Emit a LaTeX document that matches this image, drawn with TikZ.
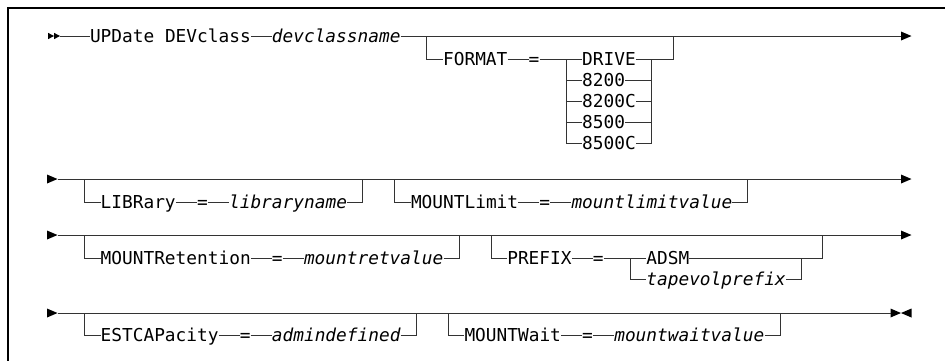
\documentclass[tikz,border=0pt]{standalone}
\usepackage{fontspec}
\setmonofont{DejaVu Sans Mono}[ItalicFont={DejaVu Sans Mono Oblique}]
\newcommand{\cl}[1]{47+#1*10.7}
\tikzset{
  rr/.style={line width=0.9pt, draw=black!80},
  kw/.style={inner sep=0pt, anchor=west, text height=13pt, text depth=0pt,
    font=\ttfamily\fontsize{17.8}{20}\selectfont},
  var/.style={kw, font=\ttfamily\itshape\fontsize{17.8}{20}\selectfont},
  frm/.style={line width=1.4pt, draw=black}
}
\newcommand{\rtri}[1]{\fill[black] (#1) ++(0,-4.5) -- ++(10.5,4.5) -- ++(-10.5,4.5) -- cycle;}
\newcommand{\ltri}[1]{\fill[black] (#1) ++(0,0) -- ++(10.5,-4.5) -- ++(0,9) -- cycle;}
\newcommand{\stri}[1]{\fill[black] (#1) ++(0,-3.2) -- ++(6,3.2) -- ++(-6,3.2) -- cycle;}
\begin{document}
\begin{tikzpicture}[x=1pt,y=-1pt]
\useasboundingbox (0,0) rectangle (945,360);
\draw[frm] (8,361) -- (8,8) -- (946,8);

% ---------- Row 1 ----------
\coordinate (a1) at (48,36);
\coordinate (a1b) at (54,36);
\coordinate (s1) at (60,36);
\stri{a1}\stri{a1b}
\node[kw] (upd) at ({\cl{4}},36) {UPDate DEVclass};
\node[var] (dcn) at ({\cl{21}},36) {devclassname};
\coordinate (e1) at (901,36);
\rtri{e1}
\draw[rr] (s1) -- (upd.west);
\draw[rr] (upd.east) -- (dcn.west);
\draw[rr] (dcn.east) -- (e1);
\coordinate (j1a) at ({\cl{35.5}},36);
\coordinate (j1b) at ({\cl{58.5}},36);
\node[kw] (fmt) at ({\cl{37}},59) {FORMAT};
\node[kw] (eqf) at ({\cl{45}},59) {=};
\node[kw] (o1) at ({\cl{50}},59) {DRIVE};
\node[kw] (o2) at ({\cl{50}},80) {8200};
\node[kw] (o3) at ({\cl{50}},101) {8200C};
\node[kw] (o4) at ({\cl{50}},122) {8500};
\node[kw] (o5) at ({\cl{50}},143) {8500C};
\coordinate (cf1) at ({\cl{48.5}},59);
\coordinate (cf2) at ({\cl{56.5}},59);
\draw[rr] (j1a) |- (fmt.west);
\draw[rr] (fmt.east) -- (eqf.west);
\draw[rr] (eqf.east) -- (o1.west);
\draw[rr] (cf1) |- (o5.west);
\draw[rr] (cf1 |- o2.west) -- (o2.west);
\draw[rr] (cf1 |- o3.west) -- (o3.west);
\draw[rr] (cf1 |- o4.west) -- (o4.west);
\draw[rr] (o1.east) -| (j1b);
\draw[rr] (o5.east) -| (cf2);
\draw[rr] (o2.east) -- (cf2 |- o2.east);
\draw[rr] (o3.east) -- (cf2 |- o3.east);
\draw[rr] (o4.east) -- (cf2 |- o4.east);

% ---------- Row 2 ----------
\coordinate (s2) at (47,179);
\rtri{s2}
\coordinate (s2b) at (57.5,179);
\coordinate (e2) at (901,179);
\rtri{e2}
\draw[rr] (s2b) -- (e2);
\coordinate (j2a) at ({\cl{3.5}},179);
\coordinate (j2b) at ({\cl{29.5}},179);
\node[kw] (lib) at ({\cl{5}},202) {LIBRary};
\node[kw] (eql) at ({\cl{14}},202) {=};
\node[var] (libn) at ({\cl{17}},202) {libraryname};
\draw[rr] (j2a) |- (lib.west);
\draw[rr] (lib.east) -- (eql.west);
\draw[rr] (eql.east) -- (libn.west);
\draw[rr] (libn.east) -| (j2b);
\coordinate (j2c) at ({\cl{32.5}},179);
\coordinate (j2d) at ({\cl{65.5}},179);
\node[kw] (mlim) at ({\cl{34}},202) {MOUNTLimit};
\node[kw] (eqm) at ({\cl{46}},202) {=};
\node[var] (mlv) at ({\cl{49}},202) {mountlimitvalue};
\draw[rr] (j2c) |- (mlim.west);
\draw[rr] (mlim.east) -- (eqm.west);
\draw[rr] (eqm.east) -- (mlv.west);
\draw[rr] (mlv.east) -| (j2d);

% ---------- Row 3 ----------
\coordinate (s3) at (47,235);
\rtri{s3}
\coordinate (s3b) at (57.5,235);
\coordinate (e3) at (901,235);
\rtri{e3}
\draw[rr] (s3b) -- (e3);
\coordinate (j3a) at ({\cl{3.5}},235);
\coordinate (j3b) at ({\cl{38.5}},235);
\node[kw] (mret) at ({\cl{5}},258) {MOUNTRetention};
\node[kw] (eqr) at ({\cl{21}},258) {=};
\node[var] (mrv) at ({\cl{24}},258) {mountretvalue};
\draw[rr] (j3a) |- (mret.west);
\draw[rr] (mret.east) -- (eqr.west);
\draw[rr] (eqr.east) -- (mrv.west);
\draw[rr] (mrv.east) -| (j3b);
\coordinate (j3c) at ({\cl{41.5}},235);
\coordinate (j3d) at ({\cl{72.5}},235);
\node[kw] (pfx) at ({\cl{43}},258) {PREFIX};
\node[kw] (eqp) at ({\cl{51}},258) {=};
\node[kw] (adsm) at ({\cl{56}},258) {ADSM};
\node[var] (tvp) at ({\cl{56}},279) {tapevolprefix};
\coordinate (cp1) at ({\cl{54.5}},258);
\coordinate (cp2) at ({\cl{70.5}},258);
\draw[rr] (j3c) |- (pfx.west);
\draw[rr] (pfx.east) -- (eqp.west);
\draw[rr] (eqp.east) -- (adsm.west);
\draw[rr] (cp1) |- (tvp.west);
\draw[rr] (adsm.east) -| (j3d);
\draw[rr] (tvp.east) -| (cp2);

% ---------- Row 4 ----------
\coordinate (s4) at (47,313);
\rtri{s4}
\coordinate (s4b) at (57.5,313);
\coordinate (e4) at (890.5,313);
\coordinate (e4b) at (901,313);
\rtri{e4}\ltri{e4b}
\draw[rr] (s4b) -- (e4);
\coordinate (j4a) at ({\cl{3.5}},313);
\coordinate (j4b) at ({\cl{34.5}},313);
\node[kw] (est) at ({\cl{5}},335) {ESTCAPacity};
\node[kw] (eqe) at ({\cl{18}},335) {=};
\node[var] (adm) at ({\cl{21}},335) {admindefined};
\draw[rr] (j4a) |- (est.west);
\draw[rr] (est.east) -- (eqe.west);
\draw[rr] (eqe.east) -- (adm.west);
\draw[rr] (adm.east) -| (j4b);
\coordinate (j4c) at ({\cl{37.5}},313);
\coordinate (j4d) at ({\cl{68.5}},313);
\node[kw] (mw) at ({\cl{39}},335) {MOUNTWait};
\node[kw] (eqw) at ({\cl{50}},335) {=};
\node[var] (mwv) at ({\cl{53}},335) {mountwaitvalue};
\draw[rr] (j4c) |- (mw.west);
\draw[rr] (mw.east) -- (eqw.west);
\draw[rr] (eqw.east) -- (mwv.west);
\draw[rr] (mwv.east) -| (j4d);
\end{tikzpicture}
\end{document}
